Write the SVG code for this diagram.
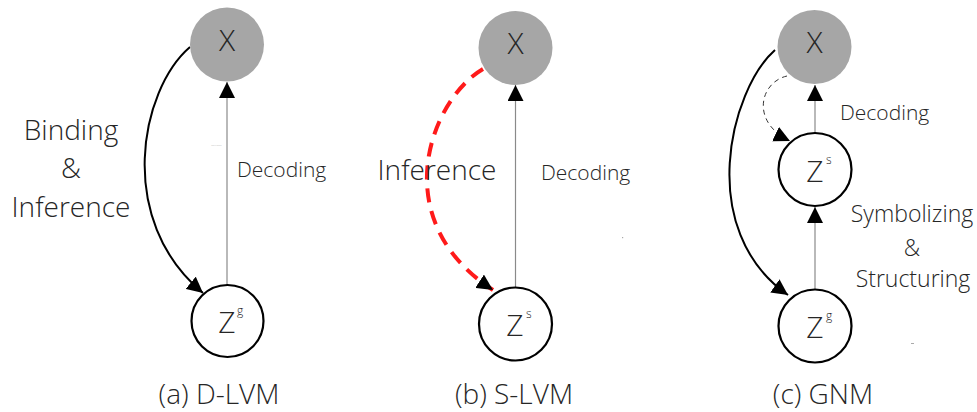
<svg xmlns="http://www.w3.org/2000/svg" width="977" height="412" viewBox="0 0 977 412">
<style>
text{font-family:"Open Sans","Noto Sans","Liberation Sans",sans-serif;font-weight:300;fill:#262626}
.obs{fill:#a6a6a6;stroke:none}
.lat{fill:#fff;stroke:#000;stroke-width:2.2}
.var{font-size:30px;text-anchor:middle}
.sup{font-size:12px}
.lbl{font-size:28px;text-anchor:middle}
.dec{font-size:21px}
.sym{font-size:23px;text-anchor:middle}
.cap{font-size:28px;text-anchor:middle}
.gen{fill:none;stroke:#8a8a8a;stroke-width:1.2}
.inf{fill:none;stroke:#000;stroke-width:2}
.red{fill:none;stroke:#ff1a1a;stroke-width:4;stroke-dasharray:14 9}
.thin{fill:none;stroke:#333;stroke-width:1;stroke-dasharray:5 4}
</style>
<defs>
<marker id="ah" markerUnits="userSpaceOnUse" markerWidth="16" markerHeight="16" viewBox="0 0 14 14" refX="14" refY="7" orient="auto">
<path d="M0,0 L14,7 L0,14 Z" fill="#000"/>
</marker>
</defs>
<rect width="977" height="412" fill="#fff"/>

<g id="connectors">
<path class="gen" d="M227,285 L227,82" marker-end="url(#ah)"/>
<path class="inf" d="M190,47 C140,90 115,220 203,293" marker-end="url(#ah)"/>
<path class="gen" d="M515.5,287 L515.5,85" marker-end="url(#ah)"/>
<path class="red" d="M483,69 C430,100 385,220 493,290" marker-end="url(#ah)"/>
<path class="gen" d="M815,133 L815,85" marker-end="url(#ah)"/>
<path class="gen" d="M815,290 L815,207" marker-end="url(#ah)"/>
<path class="inf" d="M775,50 C730,90 695,230 788,295" marker-end="url(#ah)"/>
<path class="thin" d="M787,76 C760,82 750,122 790,141" marker-end="url(#ah)"/>
</g>

<g id="node-a-x">
<circle class="obs" cx="227" cy="44.5" r="37"/>
<text class="var" x="227" y="51">X</text>
</g>
<g id="node-a-zg">
<circle class="lat" cx="227.5" cy="321" r="36"/>
<text class="var" x="227" y="333">Z</text>
<text class="sup" x="237" y="315">g</text>
</g>
<g id="labels-a">
<text class="lbl" x="71" y="140">Binding</text>
<text class="lbl" x="71" y="178">&amp;</text>
<text class="lbl" x="71" y="217">Inference</text>
<text class="dec" x="237" y="177">Decoding</text>
<text x="211" y="146" style="font-size:2.5px;fill:#999">Decoding</text>
<text class="cap" x="219" y="404">(a) D-LVM</text>
</g>

<g id="node-b-x">
<circle class="obs" cx="515.5" cy="48" r="37"/>
<text class="var" x="515.5" y="54">X</text>
</g>
<g id="node-b-zs">
<circle class="lat" cx="515.5" cy="324" r="36.5"/>
<text class="var" x="515" y="336">Z</text>
<text class="sup" x="526" y="318">s</text>
</g>
<g id="labels-b">
<text class="lbl" x="437" y="180">Inference</text>
<text class="dec" x="541" y="180">Decoding</text>
<rect x="622" y="237" width="1.2" height="1.2" fill="#aaa"/>
<text class="cap" x="514" y="404">(b) S-LVM</text>
</g>

<g id="node-c-x">
<circle class="obs" cx="814.5" cy="47" r="37"/>
<text class="var" x="814.5" y="53">X</text>
</g>
<g id="node-c-zs">
<circle class="lat" cx="815" cy="169.5" r="36.5"/>
<text class="var" x="815" y="182">Z</text>
<text class="sup" x="826" y="164">s</text>
</g>
<g id="node-c-zg">
<circle class="lat" cx="815" cy="326" r="36.5"/>
<text class="var" x="815" y="338">Z</text>
<text class="sup" x="826" y="320">g</text>
</g>
<g id="labels-c">
<text class="dec" x="840" y="120">Decoding</text>
<text class="sym" x="912" y="222">Symbolizing</text>
<text class="sym" x="912" y="256">&amp;</text>
<text class="sym" x="913" y="287">Structuring</text>
<rect x="911" y="343" width="3" height="1" fill="#aaa"/>
<text class="cap" x="823" y="404">(c) GNM</text>
</g>
</svg>
